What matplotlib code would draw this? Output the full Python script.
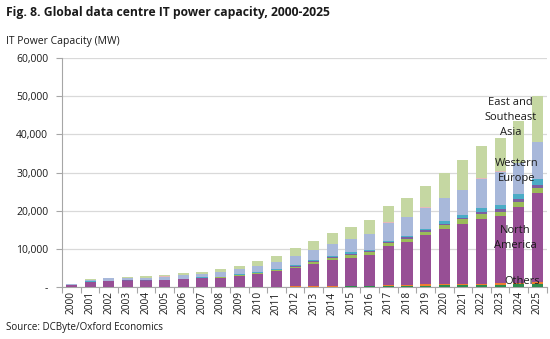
import matplotlib
matplotlib.use("Agg")
import matplotlib.pyplot as plt
from matplotlib.ticker import FuncFormatter, FixedLocator

plt.rcParams['font.family'] = ['Open Sans', 'DejaVu Sans']

years = [str(y) for y in range(2000, 2026)]

others_green = [10, 20, 20, 20, 20, 25, 30, 35, 40, 50, 60, 80, 100, 120, 150, 180, 200, 250, 300, 400, 450, 500, 550, 600, 700, 800]
others_orange = [10, 15, 15, 15, 20, 20, 25, 30, 35, 40, 50, 60, 80, 100, 120, 150, 180, 220, 250, 300, 330, 360, 400, 450, 500, 550]
north_america = [580, 1365, 1535, 1615, 1610, 1715, 1955, 2215, 2365, 2880, 3380, 3970, 4720, 5820, 6820, 7370, 8100, 10430, 11260, 12870, 14360, 15680, 16980, 17590, 19880, 23250]
latin_america = [20, 40, 50, 60, 70, 80, 100, 120, 150, 180, 220, 300, 400, 520, 610, 700, 710, 700, 870, 870, 1050, 1230, 1150, 1130, 1150, 1300]
eastern_europe = [10, 20, 25, 30, 35, 40, 50, 60, 70, 90, 110, 130, 160, 260, 250, 350, 260, 270, 360, 520, 420, 420, 520, 630, 870, 870]
middle_east = [10, 20, 30, 35, 40, 50, 60, 70, 90, 110, 140, 180, 250, 350, 270, 350, 340, 260, 420, 340, 710, 710, 1210, 1120, 1230, 1580]
western_europe = [200, 450, 600, 650, 700, 850, 900, 950, 1150, 1400, 1600, 1920, 2370, 2540, 3070, 3410, 4040, 4730, 4910, 5510, 5960, 6480, 7610, 8740, 8140, 9520]
south_asia = [5, 5, 10, 10, 10, 15, 15, 20, 20, 25, 30, 35, 40, 50, 55, 60, 65, 70, 80, 90, 100, 110, 120, 130, 140, 150]
east_se_asia = [60, 170, 160, 185, 295, 435, 455, 440, 720, 825, 1160, 1465, 2030, 2390, 2915, 3260, 3695, 4410, 4910, 5610, 6540, 7760, 8390, 8710, 10790, 11980]

series = [
    ("Others", others_green, "#2e8b4e"),
    ("Others 2", others_orange, "#ee7d31"),
    ("North America", north_america, "#974f95"),
    ("Latin America", latin_america, "#9bbb59"),
    ("Eastern Europe", eastern_europe, "#7d5ea0"),
    ("Middle East and Africa", middle_east, "#4bacc6"),
    ("Western Europe", western_europe, "#a8b8da"),
    ("South Asia", south_asia, "#e6b9b8"),
    ("East and Southeast Asia", east_se_asia, "#c5d7a2"),
]

fig = plt.figure(figsize=(5.5, 3.39), dpi=100)
ax = fig.add_axes([0.113, 0.153, 0.881, 0.676])

x = list(range(len(years)))
bottom = [0] * len(years)
for name, vals, col in series:
    ax.bar(x, vals, bottom=bottom, width=0.6, color=col, label=name, zorder=3, linewidth=0)
    bottom = [b + v for b, v in zip(bottom, vals)]

ax.set_xlim(-0.5, len(years) - 0.5)
ax.set_ylim(0, 60000)
ax.set_yticks(range(0, 60001, 10000))
ax.yaxis.set_major_formatter(FuncFormatter(lambda v, p: "-" if v == 0 else f"{int(v):,}"))
ax.grid(axis='y', color='#d9d9d9', linewidth=0.9, zorder=0)

ax.set_xticks(x)
ax.set_xticklabels(years, rotation=90, fontsize=7.3, color='#1a1a1a')
ax.tick_params(axis='x', which='major', length=0, pad=3)
ax.xaxis.set_minor_locator(FixedLocator([i - 0.5 for i in range(len(years) + 1)]))
ax.tick_params(axis='x', which='minor', length=4, color='#a6a6a6', width=0.8)
ax.tick_params(axis='y', labelsize=7.5, length=4, color='#a6a6a6', width=0.8, labelcolor='#1a1a1a', pad=6)

for s in ['top', 'right']:
    ax.spines[s].set_visible(False)
ax.spines['left'].set_color('#a6a6a6')
ax.spines['bottom'].set_color('#a6a6a6')
ax.spines['left'].set_linewidth(0.8)
ax.spines['bottom'].set_linewidth(0.8)

fig.text(0.011, 0.962, "Fig. 8. Global data centre IT power capacity, 2000-2025", fontsize=8.7,
         fontweight='bold', color='#1a1a1a', va='center', ha='left')
fig.text(0.011, 0.878, "IT Power Capacity (MW)", fontsize=7.5, color='#1a1a1a', va='center', ha='left')
fig.text(0.011, 0.035, "Source: DCByte/Oxford Economics", fontsize=7, color='#1a1a1a', va='center', ha='left')

lab_kw = dict(fontsize=8, color='#1a1a1a', ha='center', va='center', linespacing=1.5, zorder=5)
ax.text(23.55, 44400, "East and\nSoutheast\nAsia", **lab_kw)
ax.text(23.9, 30300, "Western\nEurope", **lab_kw)
ax.text(23.8, 12900, "North\nAmerica", **lab_kw)
ax.text(24.2, 1400, "Others", **lab_kw)

fig.savefig("out.png", dpi=100)
